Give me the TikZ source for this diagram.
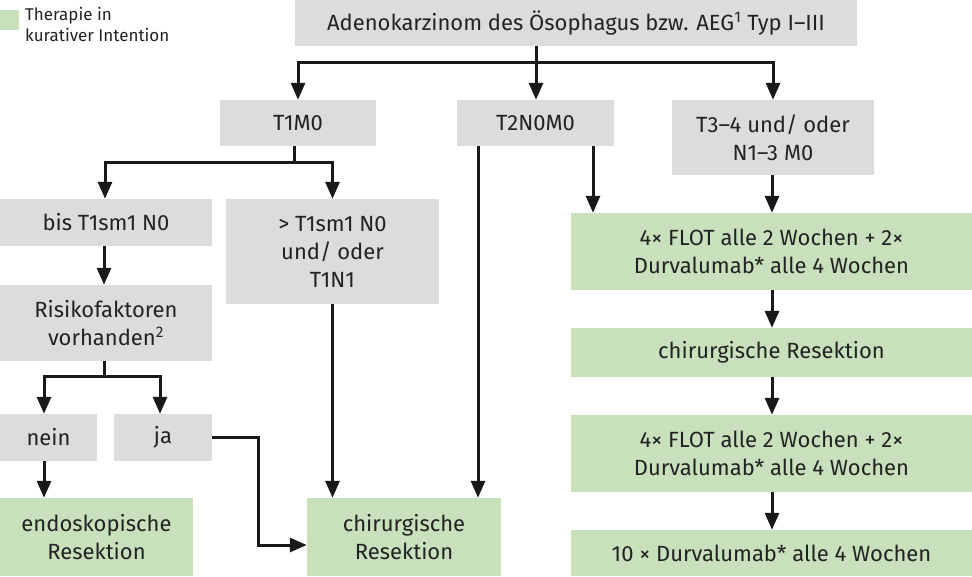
\documentclass[tikz,border=0pt]{standalone}
\usepackage{fontspec}
\setmainfont{Fira Sans}
\usetikzlibrary{arrows.meta,positioning}
\definecolor{boxgray}{HTML}{DCDCDC}
\definecolor{boxgreen}{HTML}{C8E0BC}
\definecolor{inktext}{HTML}{222222}
\begin{document}
\begin{tikzpicture}[x=1pt,y=-1pt,
    box/.style={rectangle, fill=boxgray, inner sep=0pt, align=center, text=inktext,
      font=\fontsize{22}{28}\selectfont},
    therapy/.style={box, fill=boxgreen},
    arrow/.style={-{Triangle[length=17pt,width=14pt]}, line width=3pt, draw=black!90},
    link/.style={line width=3pt, draw=black!90}
]
    \useasboundingbox (0,0) rectangle (972,576);

    % Legend
    \node[fill=boxgreen, minimum width=20pt, minimum height=20pt, inner sep=0pt] (legend) at (9,20) {};
    \node[anchor=west, align=left, inner sep=0pt, text=inktext, font=\fontsize{17}{21}\selectfont] (legendtext) at (25,24) {Therapie in\\kurativer Intention};

    % Diagnosis
    \node[box, minimum width=562pt, minimum height=46pt] (diag) at (576,23) {Adenokarzinom des Ösophagus bzw. AEG\textsuperscript{1} Typ I--III};

    % Stages
    \node[box, minimum width=156pt, minimum height=46pt] (t1) at (298,123) {T1M0};
    \node[box, minimum width=157pt, minimum height=46pt] (t2) at (535.5,123) {T2N0M0};
    \node[box, minimum width=202pt, minimum height=75pt] (t3) at (773,137.5) {T3--4 und/ oder\\N1--3 M0};

    % T1 branch
    \node[box, minimum width=212pt, minimum height=47pt] (sm1) at (106,222.5) {bis T1sm1 N0};
    \node[box, minimum width=213pt, minimum height=105pt] (gsm1) at (332.5,251.5) {> T1sm1 N0\\und/ oder\\T1N1};
    \node[box, minimum width=212pt, minimum height=76pt] (risk) at (106,323) {Risikofaktoren\\vorhanden\textsuperscript{2}};
    \node[box, minimum width=97pt, minimum height=47pt] (nein) at (48.5,437.5) {nein};
    \node[box, minimum width=98pt, minimum height=47pt] (ja) at (163,437.5) {ja};
    \node[therapy, minimum width=193pt, minimum height=78pt] (endo) at (96.5,537) {endoskopische\\Resektion};
    \node[therapy, minimum width=194pt, minimum height=78pt] (chir) at (404,537) {chirurgische\\Resektion};

    % Multimodal therapy
    \node[therapy, minimum width=401pt, minimum height=77pt] (flot1) at (771.5,251.5) {4× FLOT alle 2 Wochen + 2×\\Durvalumab* alle 4 Wochen};
    \node[therapy, minimum width=401pt, minimum height=49pt] (res) at (771.5,352.5) {chirurgische Resektion};
    \node[therapy, minimum width=401pt, minimum height=77pt] (flot2) at (771.5,453.5) {4× FLOT alle 2 Wochen + 2×\\Durvalumab* alle 4 Wochen};
    \node[therapy, minimum width=401pt, minimum height=46pt] (durva) at (771.5,553) {10 × Durvalumab* alle 4 Wochen};

    % Branches
    \coordinate (split) at (536,62);
    \draw[link] (diag.south -| split) -- (split);
    \draw[arrow] (split) -| (t1.north);
    \draw[arrow] (split) -- (t2.north -| split);
    \draw[arrow] (split) -| (t3.north);

    \coordinate (t1split) at (294,162);
    \draw[link] (t1.south -| t1split) -- (t1split);
    \draw[arrow] (t1split) -| (sm1.north -| 105,0);
    \draw[arrow] (t1split) -| (gsm1.north);

    \draw[arrow] (sm1.south -| 104,0) -- (risk.north -| 104,0);
    \coordinate (risksplit) at (104,376);
    \draw[link] (risk.south -| risksplit) -- (risksplit);
    \draw[arrow] (risksplit) -| (nein.north -| 44,0);
    \draw[arrow] (risksplit) -| (ja.north -| 160,0);
    \draw[arrow] (nein.south -| 44,0) -- (endo.north -| 44,0);
    \draw[arrow] (ja.east) -- ++(46,0) |- (chir.west |- 0,545);

    \draw[arrow] (gsm1.south) -- (chir.north -| gsm1.south);
    \draw[arrow] (t2.south -| 478,0) -- (chir.north -| 478,0);
    \draw[arrow] (t2.south -| 593,0) -- (flot1.north -| 593,0);
    \draw[arrow] (t3.south -| 772,0) -- (flot1.north -| 772,0);

    % Sequence
    \draw[arrow] (flot1.south -| 772,0) -- (res.north -| 772,0);
    \draw[arrow] (res.south -| 772,0) -- (flot2.north -| 772,0);
    \draw[arrow] (flot2.south -| 772,0) -- (durva.north -| 772,0);
\end{tikzpicture}
\end{document}
